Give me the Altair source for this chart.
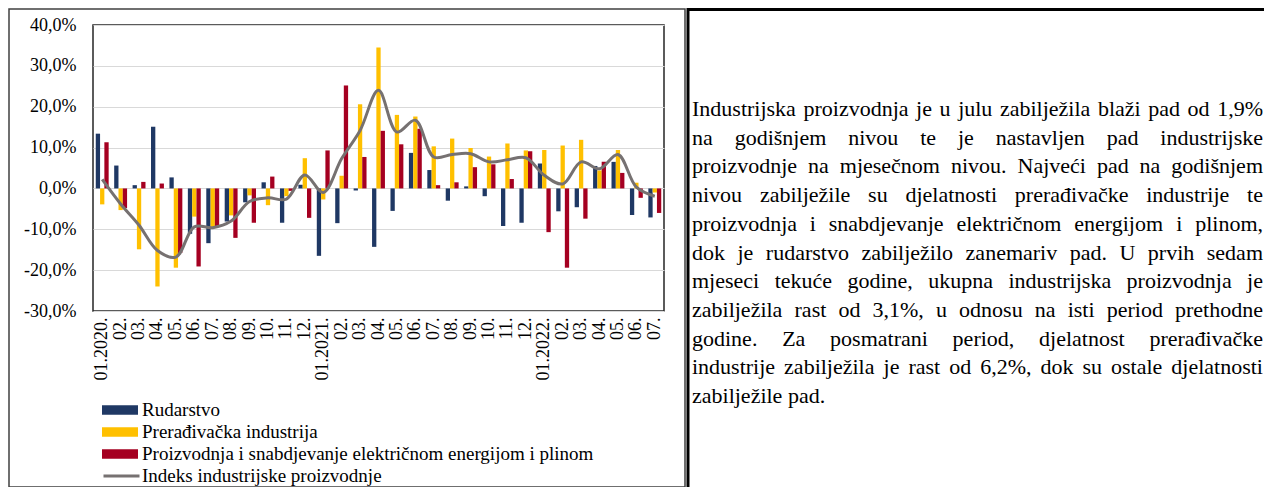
import altair as alt
import pandas as pd

# ---------------- data ----------------
months = [
    "01.2020.", "02.2020.", "03.2020.", "04.2020.", "05.2020.", "06.2020.",
    "07.2020.", "08.2020.", "09.2020.", "10.2020.", "11.2020.", "12.2020.",
    "01.2021.", "02.2021.", "03.2021.", "04.2021.", "05.2021.", "06.2021.",
    "07.2021.", "08.2021.", "09.2021.", "10.2021.", "11.2021.", "12.2021.",
    "01.2022.", "02.2022.", "03.2022.", "04.2022.", "05.2022.", "06.2022.",
    "07.2022.",
]

rudarstvo = [13.4, 5.6, 0.8, 15.1, 2.7, -11.1, -13.4, -8.1, -3.4, 1.5, -8.4, 0.9,
             -16.5, -8.5, -0.5, -14.3, -5.5, 8.7, 4.5, -3.0, 0.5, -1.9, -9.2, -8.4,
             6.1, -5.6, -4.6, 5.5, 6.5, -6.5, -7.1]
preradivacka = [-3.9, -5.3, -14.9, -24.0, -19.4, -6.9, -9.5, -6.6, -1.7, -4.1, -1.9, 7.4,
                -2.7, 3.1, 20.6, 34.5, 18.0, 17.6, 10.3, 12.2, 9.9, 7.8, 11.0, 9.3,
                9.4, 10.5, 11.9, 4.4, 9.4, 1.4, -1.0]
energija = [11.3, -4.8, 1.6, 1.2, -15.8, -19.1, -9.3, -12.1, -8.4, 2.9, -0.6, -7.2,
            9.3, 25.2, 7.7, 14.1, 10.8, 14.6, 0.8, 1.5, 5.2, 5.9, 2.3, 9.1,
            -10.7, -19.4, -7.4, 6.5, 3.8, -2.3, -6.0]
indeks = [2.2, -3.8, -9.0, -15.2, -16.8, -9.4, -9.6, -8.0, -3.2, -2.3, -2.6, 3.3,
          -1.0, 7.3, 14.2, 24.0, 13.8, 16.7, 7.7, 8.3, 8.5, 6.5, 7.0, 7.5,
          3.2, 1.1, 6.5, 4.8, 8.3, 0.3, -1.9]

series_names = [
    "Rudarstvo",
    "Prerađivačka industrija",
    "Proizvodnja i snabdjevanje električnom energijom i plinom",
]
series_colors = ["#1F3864", "#FFC000", "#A50021"]
line_name = "Indeks industrijske proizvodnje"
line_color = "#767171"
y_ticks = [-30, -20, -10, 0, 10, 20, 30, 40]

paragraph_lines = [
    "Industrijska proizvodnja je u julu zabilježila blaži pad od 1,9%",
    "na godišnjem nivou te je nastavljen pad industrijske",
    "proizvodnje na mjesečnom nivou. Najveći pad na godišnjem",
    "nivou zabilježile su djelatnosti prerađivačke industrije te",
    "proizvodnja i snabdjevanje električnom energijom i plinom,",
    "dok je rudarstvo zabilježilo zanemariv pad. U prvih sedam",
    "mjeseci tekuće godine, ukupna industrijska proizvodnja je",
    "zabilježila rast od 3,1%, u odnosu na isti period prethodne",
    "godine. Za posmatrani period, djelatnost prerađivačke",
    "industrije zabilježila je rast od 6,2%, dok su ostale djelatnosti",
    "zabilježile pad.",
]

# ---------------- tables ----------------
bar_rows = []
for i, m in enumerate(months):
    for name, vals in zip(series_names, [rudarstvo, preradivacka, energija]):
        bar_rows.append({"key": m, "series": name, "value": vals[i]})
bars_df = pd.DataFrame(bar_rows)
line_df = pd.DataFrame({"key": months, "value": indeks, "name": line_name})

# layout of the justified paragraph (Times metrics)
FS = 22
TW = {
    "a": 444, "b": 500, "c": 444, "d": 500, "e": 444, "f": 333, "g": 500, "h": 500,
    "i": 278, "j": 278, "k": 500, "l": 278, "m": 778, "n": 500, "o": 500, "p": 500,
    "q": 500, "r": 333, "s": 389, "t": 278, "u": 500, "v": 500, "w": 722, "x": 500,
    "y": 500, "z": 444, "I": 333, "N": 722, "U": 722, "Z": 611, ",": 250, ".": 250,
    "%": 833, "č": 444, "ć": 444, "ž": 444, "š": 389, "đ": 500,
}


def word_w(w):
    return sum(TW.get(c, 500) for c in w) * FS / 1000.0


TXT_LEFT, TXT_RIGHT = 599, 1170   # relative to plot origin
TXT_BASE, TXT_STEP = 91, 28.7
word_rows = []
for li, line in enumerate(paragraph_lines):
    words = line.split(" ")
    widths = [word_w(w) for w in words]
    last = li == len(paragraph_lines) - 1
    if last or len(words) == 1:
        gap = 250 * FS / 1000.0
    else:
        gap = (TXT_RIGHT - TXT_LEFT - sum(widths)) / (len(words) - 1)
    x = TXT_LEFT
    for w, ww in zip(words, widths):
        word_rows.append({"px": x, "py": TXT_BASE + li * TXT_STEP, "word": w})
        x += ww + gap
words_df = pd.DataFrame(word_rows)
one = pd.DataFrame({"a": [0]})

FONT = "Liberation Serif"

# ---------------- chart ----------------
bars = alt.Chart(bars_df).mark_bar().encode(
    x=alt.X(
        "key:N", sort=months,
        scale=alt.Scale(paddingInner=0.3, paddingOuter=0.15),
        axis=alt.Axis(
            title=None, labelAngle=270, ticks=False, domain=False, labelPadding=6,
            labelExpr="slice(datum.value, 0, 3) == '01.' ? datum.value : slice(datum.value, 0, 3)",
            labelFont=FONT, labelFontSize=18, labelColor="black", grid=False,
        ),
    ),
    xOffset=alt.XOffset("series:N", sort=series_names,
                        scale=alt.Scale(paddingInner=0, paddingOuter=0)),
    y=alt.Y(
        "value:Q",
        scale=alt.Scale(domain=[-30, 40], nice=False),
        axis=alt.Axis(
            title=None, values=y_ticks, ticks=False, domain=False, labelPadding=17,
            labelExpr="(datum.value < 0 ? '-' : '') + replace(format(abs(datum.value), '.1f'), '.', ',') + '%'",
            labelFont=FONT, labelFontSize=18, labelColor="black",
            grid=True, gridColor="#d9d9d9", gridWidth=1.2,
        ),
    ),
    color=alt.Color(
        "series:N", sort=series_names,
        scale=alt.Scale(domain=series_names, range=series_colors),
        legend=alt.Legend(
            title=None, orient="none", legendX=9, legendY=374, direction="vertical",
            symbolType="M-1,-0.27H1V0.27H-1Z", symbolSize=1296, symbolStrokeWidth=0,
            labelFont=FONT, labelFontSize=19, labelColor="black", labelLimit=700,
            clipHeight=22, rowPadding=0, padding=0, labelOffset=4,
        ),
    ),
)

line = alt.Chart(line_df).mark_line(interpolate="catmull-rom", strokeWidth=3).encode(
    x=alt.X("key:N", sort=months),
    y=alt.Y("value:Q"),
    color=alt.Color(
        "name:N",
        scale=alt.Scale(domain=[line_name], range=[line_color]),
        legend=alt.Legend(
            title=None, orient="none", legendX=9, legendY=440, direction="vertical",
            symbolType="stroke", symbolSize=1296, symbolStrokeWidth=3,
            labelFont=FONT, labelFontSize=19, labelColor="black", labelLimit=700,
            clipHeight=22, rowPadding=0, padding=0, labelOffset=1,
        ),
    ),
)

text = alt.Chart(words_df).mark_text(
    align="left", baseline="alphabetic", font=FONT, fontSize=FS, color="black"
).encode(
    x=alt.X("px:Q", scale=None, axis=None),
    y=alt.Y("py:Q", scale=None, axis=None),
    text="word:N",
)

box = alt.Chart(one).mark_rect(fill="transparent", stroke="#404040", strokeWidth=1.5).encode(
    x=alt.value(-84), x2=alt.value(592), y=alt.value(-16), y2=alt.value(462)
)
vrule = alt.Chart(one).mark_rule(color="black", strokeWidth=3).encode(
    x=alt.value(595), y=alt.value(-17), y2=alt.value(462)
)
hrule = alt.Chart(one).mark_rule(color="black", strokeWidth=3).encode(
    y=alt.value(-15.5), x=alt.value(594), x2=alt.value(1172)
)

chart = (
    alt.layer(box, vrule, hrule, bars, line, text)
    .resolve_scale(color="independent")
    .properties(
        width=571, height=286,
        padding={"left": 85, "top": 17, "right": 600, "bottom": 176},
        autosize=alt.AutoSizeParams(type="none"),
        background="white",
    )
    .configure_view(stroke="#262626", strokeWidth=1.5)
)

chart.save("out.html", embed_options={"renderer": "svg", "actions": False})
